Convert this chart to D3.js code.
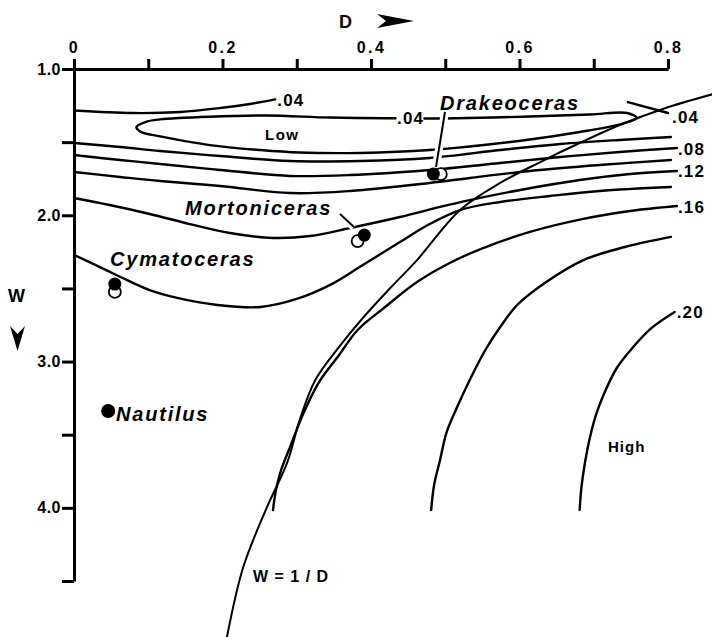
<!DOCTYPE html>
<html>
<head>
<meta charset="utf-8">
<script src="https://cdn.jsdelivr.net/npm/d3@7"></script>
<style>
  body { margin: 0; background: #fff; }
  svg { display: block; }
  text { font-family: 'Liberation Sans', Arial, sans-serif; font-weight: bold; fill: #000; }
  .contour { fill: none; stroke: #000; stroke-width: 2.4; stroke-linecap: round; stroke-linejoin: round; }
  .boundary { fill: none; stroke: #000; stroke-width: 2; }
  .axis path, .axis line { stroke: #000; stroke-width: 3; }
  .species { font-style: italic; font-size: 20px; letter-spacing: 1.8px; }
  .clabel { font-size: 17px; letter-spacing: 1.2px; }
</style>
</head>
<body>
<div id="chart"></div>
<script>
// axis ticks
const dTicks = [0, 0.1, 0.2, 0.3, 0.4, 0.5, 0.6, 0.7, 0.8];
const dTickLabels = ["0", "", "0.2", "", "0.4", "", "0.6", "", "0.8"];
const wTicks = [1.0, 1.5, 2.0, 2.5, 3.0, 3.5, 4.0, 4.5];
const wTickLabels = ["1.0", "", "2.0", "", "3.0", "", "4.0", ""];

// contour lines, [D, W]
const contour04a = [[0, 1.284], [0.079, 1.301], [0.143, 1.294], [0.197, 1.267], [0.237, 1.239], [0.271, 1.208]];
const contour04low = [[0.433, 1.337], [0.345, 1.332], [0.260, 1.318], [0.183, 1.326], [0.116, 1.344], [0.098, 1.359],
    [0.084, 1.396], [0.089, 1.427], [0.116, 1.461], [0.183, 1.520], [0.251, 1.554], [0.304, 1.571], [0.385, 1.574],
    [0.479, 1.554], [0.614, 1.482], [0.681, 1.431], [0.739, 1.373], [0.758, 1.335], [0.745, 1.301], [0.695, 1.311],
    [0.614, 1.325], [0.497, 1.338], [0.472, 1.338]];
const contour04b = [[0.746, 1.226], [0.800, 1.301]];
const contour06 = [[0, 1.506], [0.062, 1.533], [0.116, 1.561], [0.197, 1.595], [0.291, 1.629], [0.385, 1.629],
    [0.479, 1.608], [0.574, 1.554], [0.655, 1.513], [0.735, 1.485], [0.804, 1.465]];
const contour08 = [[0, 1.588], [0.062, 1.622], [0.116, 1.649], [0.197, 1.690], [0.291, 1.731], [0.372, 1.725],
    [0.479, 1.690], [0.574, 1.643], [0.655, 1.602], [0.735, 1.567], [0.812, 1.540]];
const contour10 = [[0, 1.704], [0.062, 1.738], [0.116, 1.766], [0.197, 1.800], [0.291, 1.848], [0.372, 1.834],
    [0.479, 1.779], [0.533, 1.745], [0.614, 1.697], [0.708, 1.656], [0.804, 1.622]];
const contour12 = [[0, 1.882], [0.048, 1.930], [0.102, 1.991], [0.156, 2.060], [0.210, 2.121], [0.268, 2.155],
    [0.318, 2.142], [0.372, 2.087], [0.439, 2.012], [0.493, 1.943], [0.533, 1.896], [0.601, 1.827], [0.681, 1.759],
    [0.749, 1.718], [0.812, 1.697]];
const contour14 = [[0, 2.271], [0.035, 2.354], [0.071, 2.442], [0.102, 2.511], [0.139, 2.565], [0.193, 2.613],
    [0.251, 2.627], [0.300, 2.572], [0.345, 2.476], [0.389, 2.340], [0.439, 2.183], [0.479, 2.060], [0.520, 1.964],
    [0.574, 1.909], [0.641, 1.868], [0.708, 1.834], [0.804, 1.807]];
const contour16 = [[0.268, 4.015], [0.272, 3.878], [0.279, 3.741], [0.291, 3.584], [0.308, 3.365], [0.330, 3.140],
    [0.357, 2.955], [0.382, 2.784], [0.419, 2.627], [0.462, 2.456], [0.506, 2.326], [0.551, 2.224], [0.614, 2.114],
    [0.686, 2.025], [0.749, 1.971], [0.812, 1.937]];
const contour18 = [[0.481, 4.015], [0.485, 3.844], [0.493, 3.673], [0.502, 3.481], [0.516, 3.311], [0.533, 3.126],
    [0.554, 2.921], [0.574, 2.764], [0.597, 2.613], [0.634, 2.463], [0.686, 2.306], [0.742, 2.217], [0.804, 2.148]];
const contour20 = [[0.681, 4.015], [0.683, 3.878], [0.686, 3.762], [0.690, 3.639], [0.695, 3.516], [0.703, 3.365],
    [0.712, 3.242], [0.731, 3.044], [0.752, 2.907], [0.778, 2.770], [0.809, 2.661]];

// W = 1/D curve as drawn
const boundaryLine = [[0.206, 4.883], [0.228, 4.404], [0.260, 3.994], [0.287, 3.693], [0.304, 3.399], [0.325, 3.126],
    [0.357, 2.900], [0.389, 2.702], [0.426, 2.497], [0.462, 2.306], [0.520, 1.964], [0.574, 1.779], [0.628, 1.636],
    [0.681, 1.506], [0.735, 1.383], [0.793, 1.273], [0.861, 1.171]];

// species: filled and open markers
const speciesNames = ["Nautilus", "Cymatoceras", "Mortoniceras", "Drakeoceras"];
const filledPts = [[0.046, 3.338], [0.055, 2.470], [0.391, 2.135], [0.484, 1.718]];
const openPts = [null, [0.055, 2.524], [0.382, 2.176], [0.494, 1.718]];

const width = 712;
const height = 637;

const x = d3.scaleLinear().domain([0, 0.8]).range([74, 668]);
const y = d3.scaleLinear().domain([1, 4.5]).range([69, 581]);

const svg = d3.select('#chart')
    .append('svg')
    .attr('width', width)
    .attr('height', height);

const line = d3.line()
    .x(d => x(d[0]))
    .y(d => y(d[1]))
    .curve(d3.curveCatmullRom.alpha(0.5));

function drawAxes(chart) {
    const xAxis = d3.axisTop(x)
        .tickValues(dTicks)
        .tickSize(10)
        .tickSizeOuter(0)
        .tickPadding(6)
        .tickFormat((d, i) => dTickLabels[i]);

    const gx = chart.append('g')
        .classed('axis', true)
        .attr('transform', `translate(0,${y(1)})`)
        .call(xAxis);
    gx.selectAll('text')
        .style('font-size', '16px')
        .style('letter-spacing', '2.5px');

    const yAxis = d3.axisLeft(y)
        .tickValues(wTicks)
        .tickSize(12)
        .tickSizeOuter(0)
        .tickPadding(1)
        .tickFormat((d, i) => wTickLabels[i]);

    const gy = chart.append('g')
        .classed('axis', true)
        .attr('transform', `translate(${x(0)},0)`)
        .call(yAxis);
    gy.selectAll('text')
        .style('font-size', '16px')
        .style('letter-spacing', '0.5px');

    chart.append('text')
        .attr('x', 339)
        .attr('y', 28)
        .style('font-size', '18px')
        .text('D');
    chart.append('path')
        .attr('d', 'M377,14 L414,21 L377,28 L386,21 Z')
        .attr('fill', '#000');

    chart.append('text')
        .attr('x', 8)
        .attr('y', 302)
        .style('font-size', '18px')
        .text('W');
    chart.append('path')
        .attr('d', 'M10,326 L17.5,334 L25,326 L17.5,351 Z')
        .attr('fill', '#000');
}

function plotContours(chart) {
    const lines = [contour04a, contour04low, contour04b, contour06, contour08, contour10,
        contour12, contour14, contour16, contour18, contour20];

    chart.selectAll('.contour')
        .data(lines)
        .enter()
        .append('path')
        .classed('contour', true)
        .attr('d', line);

    chart.append('path')
        .classed('boundary', true)
        .attr('d', line(boundaryLine));

    // contour labels
    const ends = [
        [contour04a, '.04', 2, 0],
        [contour04b, '.04', 4, 4],
        [contour08, '.08', 1, 1],
        [contour12, '.12', 1, 0],
        [contour16, '.16', 1, 1],
        [contour20, '.20', 2, 0]
    ];
    chart.selectAll('.clabel')
        .data(ends)
        .enter()
        .append('text')
        .classed('clabel', true)
        .attr('x', d => x(d[0][d[0].length - 1][0]) + d[2])
        .attr('y', d => y(d[0][d[0].length - 1][1]) + d[3])
        .attr('dy', '0.36em')
        .text(d => d[1]);

    chart.append('text')
        .classed('clabel', true)
        .attr('x', x(0.435))
        .attr('y', y(1.337))
        .attr('dy', '0.36em')
        .text('.04');

    chart.append('text')
        .attr('x', 265)
        .attr('y', 140)
        .style('font-size', '15px')
        .style('letter-spacing', '1.5px')
        .text('Low');

    chart.append('text')
        .attr('x', 608)
        .attr('y', 452)
        .style('font-size', '15px')
        .style('letter-spacing', '1px')
        .text('High');

    chart.append('text')
        .attr('x', 253)
        .attr('y', 582)
        .style('font-size', '16px')
        .style('letter-spacing', '1px')
        .text('W = 1 / D');
}

function plotSpecies(chart) {
    // pointer lines with a white halo so they cut the contours
    const pointers = [[[445, 112], [436, 167]], [[340, 214], [354, 227]]];
    pointers.forEach(p => {
        chart.append('line')
            .attr('x1', p[0][0]).attr('y1', p[0][1])
            .attr('x2', p[1][0]).attr('y2', p[1][1])
            .attr('stroke', '#fff')
            .attr('stroke-width', 8);
        chart.append('line')
            .attr('x1', p[0][0]).attr('y1', p[0][1])
            .attr('x2', p[1][0]).attr('y2', p[1][1])
            .attr('stroke', '#000')
            .attr('stroke-width', 2);
    });

    chart.selectAll('.open')
        .data(openPts.filter(d => d))
        .enter()
        .append('circle')
        .classed('open', true)
        .attr('cx', d => x(d[0]))
        .attr('cy', d => y(d[1]))
        .attr('r', 6)
        .attr('fill', '#fff')
        .attr('stroke', '#000')
        .attr('stroke-width', 1.8);

    chart.selectAll('.filled')
        .data(filledPts)
        .enter()
        .append('circle')
        .classed('filled', true)
        .attr('cx', d => x(d[0]))
        .attr('cy', d => y(d[1]))
        .attr('r', (d, i) => i === 0 ? 7 : 6.5)
        .attr('fill', '#000');

    const labelPos = [[116, 421], [110, 266], [185, 215], [440, 110]];
    chart.selectAll('.species')
        .data(speciesNames)
        .enter()
        .append('text')
        .classed('species', true)
        .attr('x', (d, i) => labelPos[i][0])
        .attr('y', (d, i) => labelPos[i][1])
        .text(d => d);
}

drawAxes(svg);
plotContours(svg);
plotSpecies(svg);
</script>
</body>
</html>
